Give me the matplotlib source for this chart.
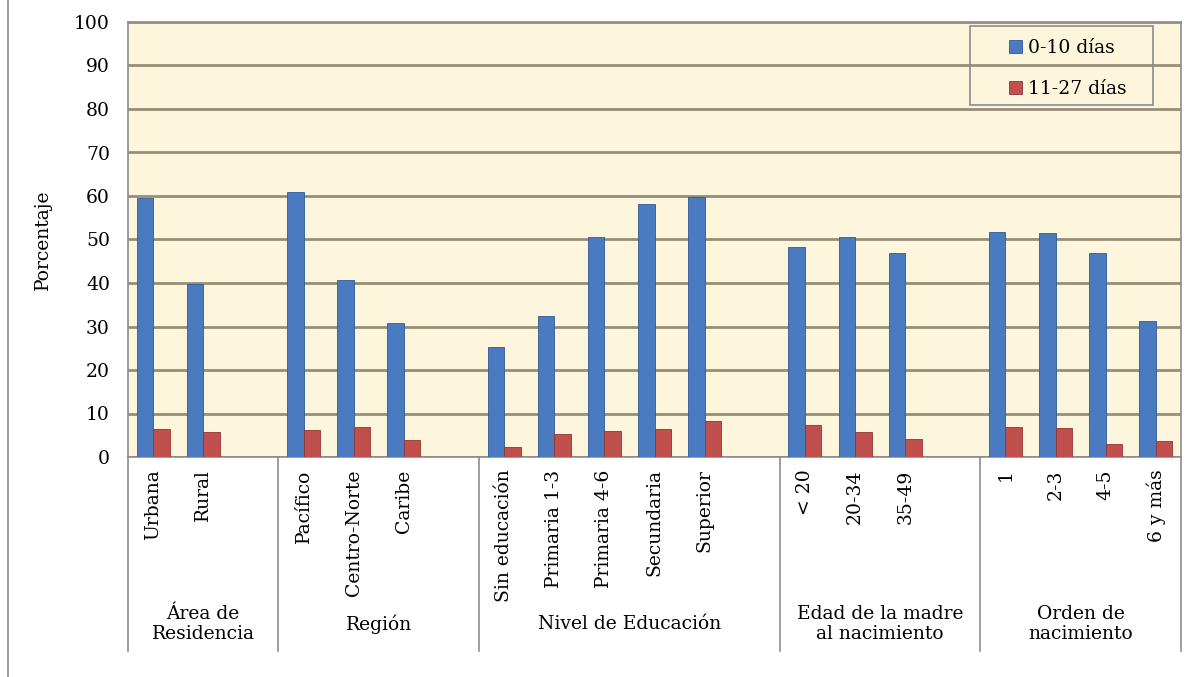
"""Duración de la lactancia: porcentaje por característica (0-10 vs 11-27 días)."""
import numpy as np
import matplotlib
matplotlib.use('Agg')
import matplotlib.pyplot as plt
from matplotlib.lines import Line2D
from matplotlib.patches import Rectangle
import matplotlib.transforms as mtransforms

font_size = 13.5
plt.rcParams['font.family'] = ['DejaVu Serif']

# group names and their categories
group_names = ['Área de\nResidencia', 'Región', 'Nivel de Educación',
               'Edad de la madre\nal nacimiento', 'Orden de\nnacimiento']
group_cats = [
    ['Urbana', 'Rural'],
    ['Pacífico', 'Centro-Norte', 'Caribe'],
    ['Sin educación', 'Primaria 1-3', 'Primaria 4-6', 'Secundaria', 'Superior'],
    ['< 20', '20-34', '35-49'],
    ['1', '2-3', '4-5', '6 y más'],
]
dias_0_10 = [59.5, 39.8,
             60.9, 40.7, 30.8,
             25.3, 32.5, 50.5, 58.1, 59.8,
             48.2, 50.6, 46.8,
             51.8, 51.5, 47.0, 31.2]
dias_11_27 = [6.4, 5.7,
              6.2, 6.8, 3.9,
              2.3, 5.3, 6.0, 6.4, 8.3,
              7.3, 5.7, 4.2,
              6.9, 6.6, 3.0, 3.6]

blue = '#4a7bc0'
red = '#c0504d'
bg = '#fdf6dc'
grid_col = '#968e78'

# x positions: one empty slot between groups
positions = []
bounds = [-0.5]
pos = 0
for i, cats in enumerate(group_cats):
    for c in cats:
        positions.append(pos)
        pos += 1
    if i < len(group_cats) - 1:
        pos += 1
    bounds.append(pos - 0.5)
positions = np.array(positions)
labels = [c for cats in group_cats for c in cats]

fig = plt.figure(figsize=(11.98, 6.77), dpi=100)
ax = fig.add_axes([128 / 1198, 1 - 457 / 677, 1053 / 1198, 435 / 677])
ax.set_facecolor(bg)

w = 0.33
ax.bar(positions - w / 2, dias_0_10, w, color=blue, edgecolor='#2f5a96',
       linewidth=0.6, label='0-10 días', zorder=3)
ax.bar(positions + w / 2, dias_11_27, w, color=red, edgecolor='#8e3533',
       linewidth=0.6, label='11-27 días', zorder=3)

ax.set_xlim(-0.5, pos - 0.5)
ax.set_ylim(0, 100)
ax.set_yticks(np.arange(0, 101, 10))
ax.yaxis.grid(True, color=grid_col, linewidth=2, zorder=1)
ax.tick_params(axis='y', labelsize=font_size, length=0, pad=13)
ax.set_xticks(positions)
ax.set_xticklabels(labels, rotation=90, fontsize=font_size, va='top')
ax.tick_params(axis='x', length=0, pad=9)
for s in ax.spines.values():
    s.set_color('#8c8c8c')
    s.set_linewidth(1.2)

ax.set_ylabel('Porcentaje', fontsize=font_size, labelpad=16)

# group separators and names
trans = mtransforms.blended_transform_factory(ax.transData, ax.transAxes)
for b in bounds:
    ax.add_line(Line2D([b, b], [0, -0.445], transform=trans, color='#8c8c8c',
                       linewidth=1.2, clip_on=False))
for i, name in enumerate(group_names):
    xc = (bounds[i] + bounds[i + 1]) / 2
    ax.text(xc, -0.384, name, transform=trans, ha='center', va='center',
            fontsize=font_size, linespacing=1.2)

# legend without frame, with a wider box drawn round it
leg = ax.legend(loc='upper left', bbox_to_anchor=(0.824, 0.99),
                fontsize=font_size, handlelength=0.7, handleheight=0.7,
                handletextpad=0.3, borderpad=0.7, labelspacing=1.2,
                frameon=False, borderaxespad=0)
ax.add_patch(Rectangle((0.7996, 0.809), 0.1738, 0.182, transform=ax.transAxes,
                       facecolor='none', edgecolor='#8c8c8c', linewidth=1.2,
                       zorder=5))

# outer left border
fig.add_artist(Line2D([8 / 1198, 8 / 1198], [0, 1], transform=fig.transFigure,
                      color='#8c8c8c', linewidth=1.2))

fig.savefig('out.png', dpi=100, facecolor='white')
